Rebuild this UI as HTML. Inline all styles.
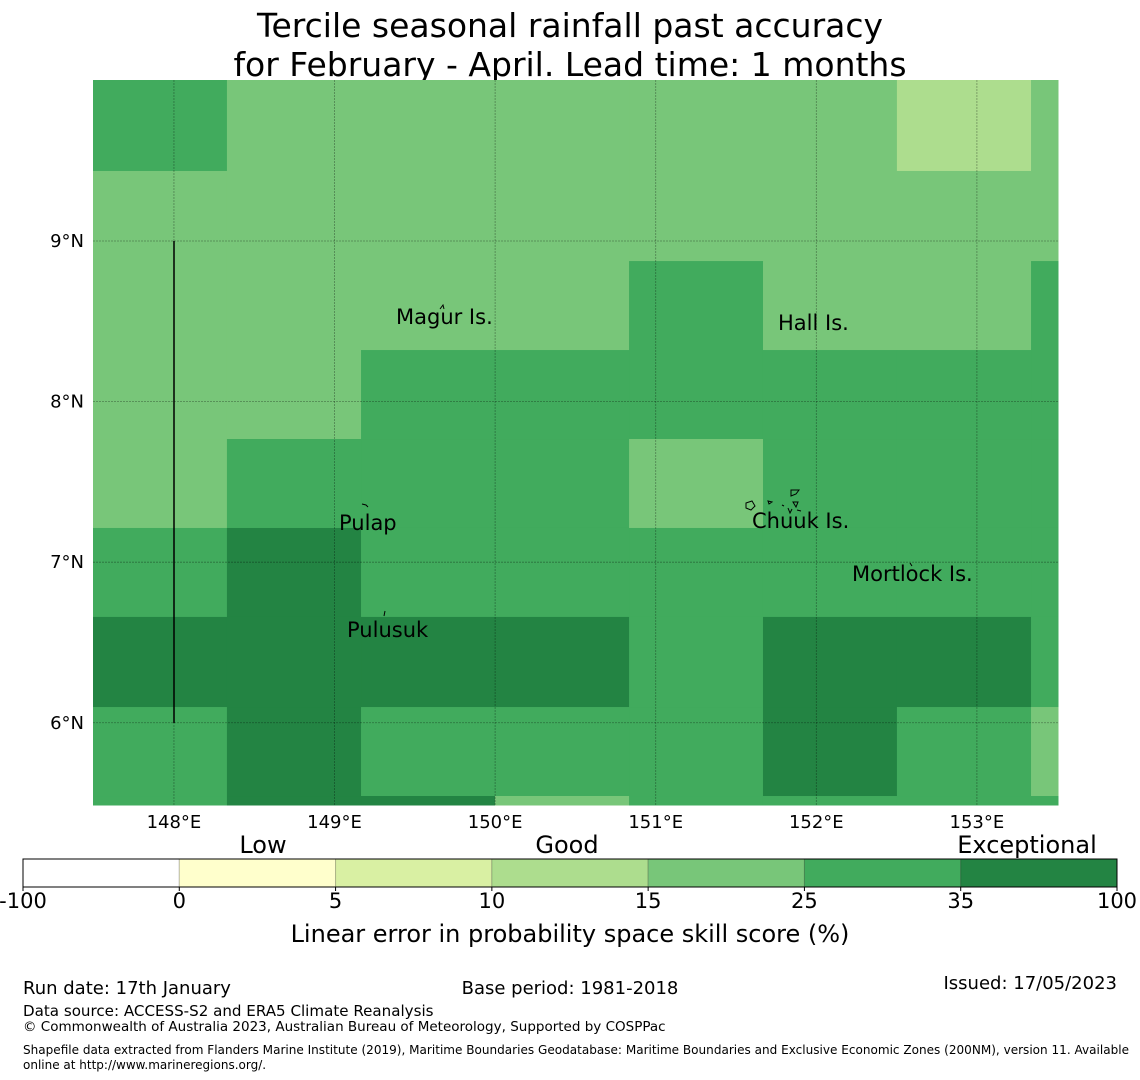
<!DOCTYPE html>
<html><head><meta charset="utf-8"><style>
html,body{margin:0;padding:0;background:#fff;}
svg{display:block;font-family:"DejaVu Sans","Liberation Sans",sans-serif;}
</style></head><body>
<svg id="chart" width="1140" height="1080" viewBox="0 0 1140 1080" xmlns="http://www.w3.org/2000/svg">
<text x="570" y="37" font-size="33" text-anchor="middle">Tercile seasonal rainfall past accuracy</text>
<text x="570" y="76" font-size="33" text-anchor="middle">for February - April. Lead time: 1 months</text>
<g id="cells"></g>
<g id="grid"></g>
<line x1="174" y1="241" x2="174" y2="723" stroke="#000" stroke-width="1.5"/>
<g fill="none" stroke="#000" stroke-width="1">
<path d="M440 309 l3 -4 l1 4"/>
<path d="M362 504 l4 1 l2 2"/>
<path d="M385 611 l-1 5"/>
<path d="M791 490 l8 0 l-3 4 l-5 2 z M746 503 l6 -2 l3 5 l-4 4 l-5 -2 z M768 501 l4 1 l-3 2 z M793 502 l5 0 l-2 5 z M782 505 l2 1 M788 508 l2 5 l2 -4 M797 510 l4 1 M910 563 l2 3"/>
</g>
<g font-size="21" fill="#000">
<text x="396" y="324">Magur Is.</text>
<text x="778" y="330">Hall Is.</text>
<text x="339" y="530">Pulap</text>
<text x="752" y="528">Chuuk Is.</text>
<text x="852" y="581">Mortlock Is.</text>
<text x="347" y="637">Pulusuk</text>
</g>
<g id="ticks" font-size="18"></g>
<g id="cbar"></g>
<text x="263" y="853" font-size="24" text-anchor="middle">Low</text>
<text x="567" y="853" font-size="24" text-anchor="middle">Good</text>
<text x="1027" y="853" font-size="24" text-anchor="middle">Exceptional</text>
<text x="570" y="942" font-size="24" text-anchor="middle">Linear error in probability space skill score (%)</text>
<g font-size="18">
<text x="23" y="994">Run date: 17th January</text>
<text x="570" y="994" text-anchor="middle">Base period: 1981-2018</text>
<text x="1117" y="989" text-anchor="end">Issued: 17/05/2023</text>
<text x="23" y="1016" font-size="15.1">Data source: ACCESS-S2 and ERA5 Climate Reanalysis</text>
<text x="23" y="1031" font-size="13.5">© Commonwealth of Australia 2023, Australian Bureau of Meteorology, Supported by COSPPac</text>
<text x="23" y="1054" font-size="12" textLength="1106" lengthAdjust="spacingAndGlyphs">Shapefile data extracted from Flanders Marine Institute (2019), Maritime Boundaries Geodatabase: Maritime Boundaries and Exclusive Economic Zones (200NM), version 11. Available</text>
<text x="23" y="1069" font-size="12">online at http://www.marineregions.org/.</text>
</g>
</svg>
<script>
const NS="http://www.w3.org/2000/svg";
// data
const lonEdges=[147.496,148.330,149.165,149.999,150.834,151.668,152.502,153.337,153.505];
const latEdges=[10.0025,9.436,8.875,8.321,7.767,7.213,6.659,6.098,5.544,5.488];
const skill=[
 [30,20,20,20,20,20,12,20],
 [20,20,20,20,20,20,20,20],
 [20,20,20,20,30,20,20,30],
 [20,20,30,30,30,30,30,30],
 [20,30,30,30,20,30,30,30],
 [30,40,30,30,30,30,30,30],
 [40,40,40,40,30,40,40,30],
 [30,40,30,30,30,40,30,20],
 [30,40,40,20,30,30,30,30]];
const bounds=[-100,0,5,10,15,25,35,100];
const binColors=["#ffffff","#ffffcc","#d9f0a3","#addd8e","#78c679","#41ab5d","#238443"];
const lonTicks=[148,149,150,151,152,153];
const latTicks=[9,8,7,6];
// axes
const X0=93,X1=1058,Y0=80,Y1=805;
const lonMin=147.496,lonMax=153.505,latMax=10.0025,latMin=5.488;
const xs=l=>X0+(l-lonMin)/(lonMax-lonMin)*(X1-X0);
const ys=l=>Y0+(latMax-l)/(latMax-latMin)*(Y1-Y0);
const colorFor=v=>{for(let i=0;i<bounds.length-1;i++){if(v<bounds[i+1])return binColors[i];}return binColors[binColors.length-1];};
const cells=document.getElementById('cells');
skill.forEach((row,r)=>row.forEach((v,c)=>{
 const el=document.createElementNS(NS,'rect');
 const x=xs(lonEdges[c]),x2=xs(lonEdges[c+1]),y=ys(latEdges[r]),y2=ys(latEdges[r+1]);
 el.setAttribute('x',x);el.setAttribute('y',y);
 el.setAttribute('width',x2-x+0.5);el.setAttribute('height',y2-y+0.5);
 el.setAttribute('fill',colorFor(v));
 
 
 cells.appendChild(el);
}));
const grid=document.getElementById('grid'),ticks=document.getElementById('ticks');
lonTicks.forEach(l=>{
 const x=xs(l);
 const ln=document.createElementNS(NS,'line');
 ln.setAttribute('x1',x);ln.setAttribute('x2',x);ln.setAttribute('y1',Y0);ln.setAttribute('y2',Y1);
 ln.setAttribute('stroke','rgba(0,0,0,0.35)');ln.setAttribute('stroke-dasharray','2,1');ln.setAttribute('stroke-width','0.8');
 
 
 grid.appendChild(ln);
 const t=document.createElementNS(NS,'text');
 t.setAttribute('x',x);t.setAttribute('y',828);t.setAttribute('text-anchor','middle');
 t.textContent=l+'°E';
 
 
 ticks.appendChild(t);
});
latTicks.forEach(l=>{
 const y=ys(l);
 const ln=document.createElementNS(NS,'line');
 ln.setAttribute('x1',X0);ln.setAttribute('x2',X1);ln.setAttribute('y1',y);ln.setAttribute('y2',y);
 ln.setAttribute('stroke','rgba(0,0,0,0.35)');ln.setAttribute('stroke-dasharray','2,1');ln.setAttribute('stroke-width','0.8');
 
 
 grid.appendChild(ln);
 const t=document.createElementNS(NS,'text');
 t.setAttribute('x',84);t.setAttribute('y',y+6);t.setAttribute('text-anchor','end');
 t.textContent=l+'°N';
 
 
 ticks.appendChild(t);
});
// colorbar
const cb=document.getElementById('cbar');
const CB0=23,CB1=1117,CBY=859,CBH=28,segW=(CB1-CB0)/binColors.length;
binColors.forEach((c,i)=>{
 const r=document.createElementNS(NS,'rect');
 r.setAttribute('x',CB0+i*segW);r.setAttribute('y',CBY);r.setAttribute('width',segW);r.setAttribute('height',CBH);
 r.setAttribute('fill',c);r.setAttribute('stroke','rgba(0,0,0,0.2)');r.setAttribute('stroke-width','1');
 
 
 cb.appendChild(r);
});
const fr=document.createElementNS(NS,'rect');
fr.setAttribute('x',CB0);fr.setAttribute('y',CBY);fr.setAttribute('width',CB1-CB0);fr.setAttribute('height',CBH);
fr.setAttribute('fill','none');fr.setAttribute('stroke','#000');fr.setAttribute('stroke-width','1');


cb.appendChild(fr);
bounds.forEach((b,i)=>{
 const x=CB0+i*segW;
 const tk=document.createElementNS(NS,'line');
 tk.setAttribute('x1',x);tk.setAttribute('x2',x);tk.setAttribute('y1',CBY+CBH);tk.setAttribute('y2',CBY+CBH+4);tk.setAttribute('stroke','#000');
 
 
 cb.appendChild(tk);
 const t=document.createElementNS(NS,'text');
 t.setAttribute('x',x);t.setAttribute('y',908);t.setAttribute('text-anchor','middle');t.setAttribute('font-size','21');
 t.textContent=b;
 
 
 cb.appendChild(t);
});
</script>
</body></html>
